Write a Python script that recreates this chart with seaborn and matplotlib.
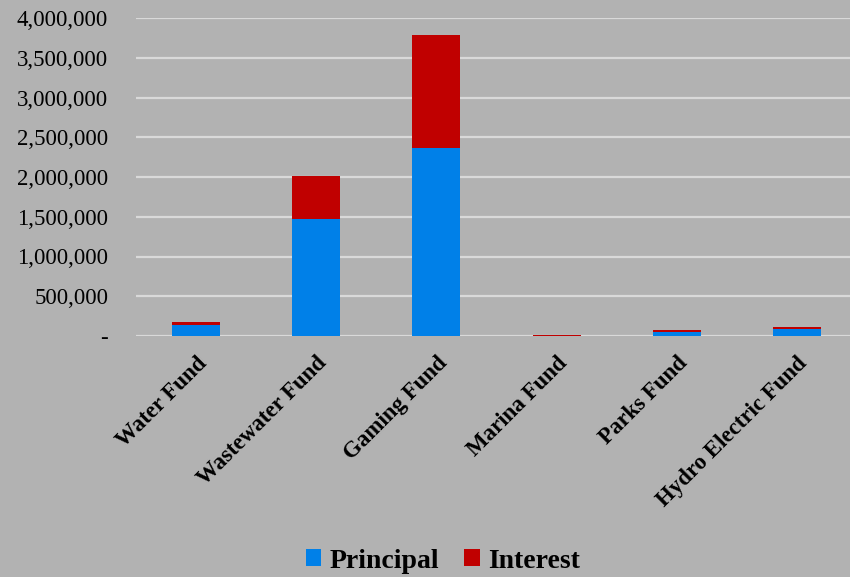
import pandas as pd
import seaborn as sns
import matplotlib.pyplot as plt
from matplotlib.patches import Patch
from matplotlib.ticker import FuncFormatter

funds = ["Water Fund", "Wastewater Fund", "Gaming Fund", "Marina Fund",
         "Parks Fund", "Hydro Electric Fund"]
principal = [135000, 1472000, 2361000, 3000, 48000, 90000]
interest = [40000, 543000, 1425000, 12000, 30000, 17000]

blue = "#0080e8"
red = "#c00000"
bg = "#b2b2b2"

df = pd.DataFrame({"fund": funds, "principal": principal, "interest": interest})
df["total"] = df["principal"] + df["interest"]

sns.set_style("whitegrid")
plt.rcParams["font.family"] = ["Liberation Serif", "DejaVu Serif"]
plt.rcParams["text.color"] = "black"
plt.rcParams["xtick.color"] = "black"
plt.rcParams["ytick.color"] = "black"

fig = plt.figure(figsize=(8.5, 5.77), dpi=100)
fig.patch.set_facecolor(bg)
ax = fig.add_axes([136 / 850, 1 - 336 / 577, 721 / 850, 318 / 577])
ax.set_facecolor(bg)

sns.barplot(data=df, x="fund", y="total", color=red, width=0.4,
            saturation=1, ax=ax, zorder=3, linewidth=0, edgecolor="none")
sns.barplot(data=df, x="fund", y="principal", color=blue, width=0.4,
            saturation=1, ax=ax, zorder=4, linewidth=0, edgecolor="none")

ax.set_ylim(0, 4000000)
ax.set_yticks(range(0, 4000001, 500000))
ax.yaxis.set_major_formatter(FuncFormatter(lambda v, p: "-" if v == 0 else f"{int(v):,}"))
ax.grid(axis="y", color="#d9d9d9", linewidth=1.6)
ax.grid(axis="x", visible=False)
for s in ax.spines.values():
    s.set_visible(False)
ax.tick_params(axis="y", length=0, labelsize=16.5, pad=20)
ax.tick_params(axis="x", length=0, pad=12)
ax.set_xlabel("")
ax.set_ylabel("")
ax.set_xticks(range(len(funds)))
ax.set_xticklabels(funds, rotation=45, ha="right", rotation_mode="anchor",
                   fontsize=16.5, fontweight="bold")

handles = [Patch(facecolor=blue, edgecolor="none", label="Principal"),
           Patch(facecolor=red, edgecolor="none", label="Interest")]
fig.legend(handles=handles, loc="center", bbox_to_anchor=(0.521, 1 - 561 / 577), ncol=2,
           frameon=False, prop={"size": 20, "weight": "bold"},
           handlelength=0.55, handleheight=0.55, handletextpad=0.3, columnspacing=0.9)

fig.savefig("out.png", dpi=100, facecolor=bg)
